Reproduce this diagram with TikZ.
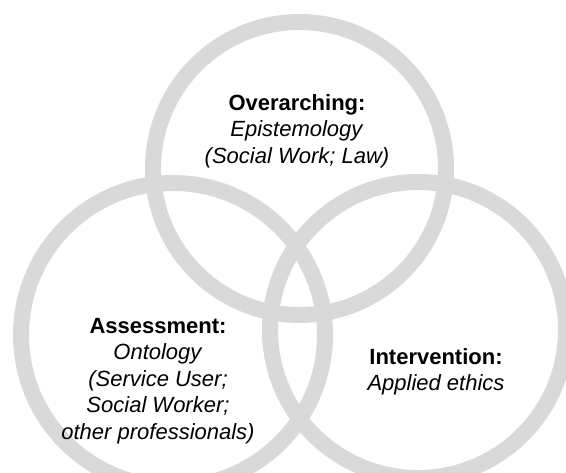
\documentclass[tikz,border=0pt]{standalone}
\usepackage{fontspec}
\setmainfont{Liberation Sans}
\definecolor{ringgrey}{RGB}{217,217,217}

\begin{document}
\begin{tikzpicture}[x=1pt, y=-1pt,
    ring/.style={draw=ringgrey, line width=16pt},
    label/.style={align=center, font=\fontsize{22}{26.5}\selectfont}]
    \useasboundingbox (0,0) rectangle (566,473);

    % Three overlapping rings
    \draw[ring] (299.5,168.5) circle (146.5);
    \draw[ring] (173,335) circle (152);
    \draw[ring] (418,330) circle (148);

    % Labels
    \node[label] (over) at (297,131) {\textbf{Overarching:}\\ \textit{Epistemology}\\ \textit{(Social Work; Law)}};
    \node[label] (assess) at (158,381) {\textbf{Assessment:}\\ \textit{Ontology}\\ \textit{(Service User;}\\ \textit{Social Worker;}\\ \textit{other professionals)}};
    \node[label] (interv) at (436,372) {\textbf{Intervention:}\\ \textit{Applied ethics}};
\end{tikzpicture}
\end{document}
